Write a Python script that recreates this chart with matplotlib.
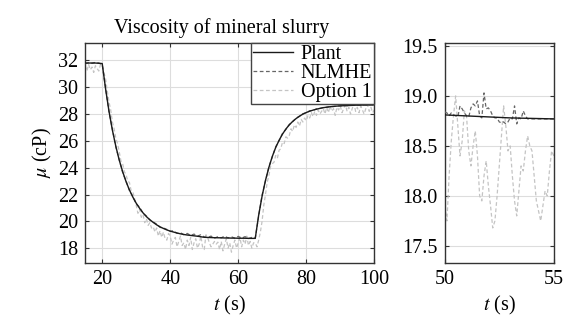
import matplotlib
matplotlib.use("Agg")
import matplotlib.pyplot as plt
import numpy as np

plt.rcParams["font.family"] = ["Liberation Serif", "DejaVu Serif"]
plt.rcParams["mathtext.fontset"] = "stix"

# ---- data ----
t_main = np.arange(15, 101)
plant = [31.80, 31.80, 31.80, 31.80, 31.78,
         31.76, 29.86, 28.20, 26.79, 25.60, 24.57, 23.71, 22.97, 22.34, 21.81,
         21.35, 20.97, 20.63, 20.35, 20.12, 19.92, 19.74, 19.59, 19.47, 19.36,
         19.27, 19.20, 19.13, 19.07, 19.02, 18.98, 18.95, 18.92, 18.89, 18.85,
         18.81, 18.80, 18.79, 18.78, 18.775, 18.77, 18.76, 18.76, 18.75, 18.75,
         18.74, 18.74, 18.74, 18.73, 18.73, 18.73, 20.46, 21.87, 23.05, 24.02,
         24.83, 25.50, 26.04, 26.50, 26.88, 27.19, 27.45, 27.66, 27.84, 27.99,
         28.11, 28.21, 28.29, 28.36, 28.42, 28.47, 28.51, 28.54, 28.57, 28.59,
         28.61, 28.62, 28.63, 28.64, 28.65, 28.66, 28.66, 28.67, 28.67, 28.68, 28.68]
nlmhe = [31.75, 31.82, 31.78, 31.85, 31.80,
         31.70, 29.90, 28.15, 26.85, 25.55, 24.60, 23.65, 23.00, 22.30, 21.85,
         21.30, 21.05, 20.60, 20.40, 20.10, 19.95, 19.80, 19.55, 19.50, 19.40,
         19.25, 19.30, 19.10, 19.15, 19.00, 19.10, 18.95, 19.05, 18.90, 19.00,
         18.84, 18.80, 18.90, 18.75, 18.85, 18.77, 18.90, 18.76, 18.85, 18.74,
         18.88, 18.75, 18.86, 18.72, 18.80, 18.75, 20.40, 21.95, 23.00, 24.05,
         24.80, 25.55, 26.00, 26.55, 26.85, 27.22, 27.42, 27.70, 27.82, 28.02,
         28.10, 28.24, 28.27, 28.38, 28.41, 28.49, 28.50, 28.56, 28.55, 28.60,
         28.60, 28.63, 28.62, 28.65, 28.64, 28.67, 28.65, 28.68, 28.66, 28.69, 28.67]

t_opt = np.arange(15, 100.01, 0.5)
option1 = [31.6, 31.2, 31.7, 31.3, 31.5, 31.1, 31.6, 31.4, 31.2, 31.7,
           31.6, 31.1, 30.6, 29.7, 28.9, 28.3, 27.4, 26.9, 26.2, 25.8,
           25.2, 24.5, 24.3, 23.7, 23.5, 23.0, 22.9, 22.3, 22.2, 21.7,
           21.2, 20.6, 20.9, 20.3, 20.5, 19.9, 20.2, 19.7, 19.9, 19.5,
           19.6, 19.2, 19.5, 18.9, 19.3, 18.8, 19.2, 18.7, 18.6, 19.1,
           18.9, 18.3, 18.6, 18.8, 18.1, 18.5, 18.9, 18.2, 18.4, 17.9,
           18.6, 18.2, 18.8, 17.9, 18.4, 18.7, 18.0, 18.3, 18.9, 18.1,
           17.9, 19.0, 18.8, 18.4, 18.1, 18.3, 18.5, 18.3, 18.45, 17.9,
           18.5, 17.8, 18.3, 18.7, 18.0, 18.4, 17.7, 18.2, 18.6, 18.0,
           18.4, 18.8, 18.1, 18.6, 18.3, 18.9, 18.2, 18.5, 18.0, 18.4,
           18.4, 18.1, 18.6, 19.2, 20.0, 21.2, 22.0, 22.9, 23.4, 24.1,
           24.3, 24.4, 24.9, 24.7, 25.3, 25.4, 25.9, 25.8, 26.3, 26.2,
           26.4, 26.9, 26.7, 27.2, 27.0, 27.4, 27.1, 27.6, 27.4, 27.7,
           27.5, 27.9, 27.7, 28.1, 27.8, 28.2, 27.9, 28.3, 28.0, 28.2,
           28.4, 28.0, 28.5, 28.1, 28.6, 28.2, 28.4, 27.9, 28.5, 28.3,
           28.6, 28.1, 28.4, 28.7, 28.2, 28.5, 28.0, 28.4, 28.8, 28.2,
           28.5, 28.1, 28.6, 28.3, 28.0, 28.4, 28.7, 28.2, 28.5, 28.1, 28.3]

# zoomed window 50-55 s
t_zoom = np.linspace(50, 55, 51)
option1_zoom = [17.90, 17.75, 18.20, 18.55, 18.80, 19.00, 18.70, 18.40, 18.55, 18.85,
                18.80, 18.45, 18.30, 18.50, 18.65, 18.40, 18.00, 17.95, 18.20, 18.35,
                18.10, 17.90, 17.68, 17.75, 18.00, 18.30, 18.60, 18.90, 18.70, 18.45,
                18.50, 18.20, 17.95, 17.80, 18.05, 18.30, 18.25, 18.45, 18.60, 18.50,
                18.45, 18.20, 17.95, 17.85, 17.75, 17.90, 18.05, 18.00, 18.25, 18.45, 18.40]
nlmhe_zoom = [18.84, 18.83, 18.80, 18.83, 18.81, 18.80, 18.79, 18.90, 18.87, 18.83,
              18.80, 18.79, 18.88, 18.92, 18.90, 18.95, 18.80, 18.78, 19.03, 18.87,
              18.88, 18.85, 18.80, 18.78, 18.78, 18.74, 18.73, 18.74, 18.72, 18.74,
              18.78, 18.77, 18.90, 18.72, 18.78, 18.77, 18.85, 18.80, 18.77, 18.77,
              18.77, 18.77, 18.77, 18.77, 18.77, 18.77, 18.77, 18.77, 18.77, 18.77, 18.77]

c_plant, c_nlmhe, c_opt = "#1a1a1a", "#666666", "#c4c4c4"
fs = 14.5

fig = plt.figure(figsize=(5.68, 3.25), dpi=100)
ax1 = fig.add_axes([0.150, 0.191, 0.509, 0.677])
ax2 = fig.add_axes([0.783, 0.191, 0.192, 0.677])

for ax in (ax1, ax2):
    ax.plot(t_opt if ax is ax1 else t_zoom, option1 if ax is ax1 else option1_zoom,
            ls=(0, (3, 2)), lw=0.9, color=c_opt, label="Option 1", zorder=2)
    ax.plot(t_main if ax is ax1 else t_zoom, nlmhe if ax is ax1 else nlmhe_zoom,
            ls=(0, (3, 2)), lw=0.9, color=c_nlmhe, label="NLMHE", zorder=3)
    ax.plot(t_main, plant, lw=1.0, color=c_plant, label="Plant", zorder=4)
    ax.grid(True, color="#dddddd", lw=0.8)
    ax.set_axisbelow(True)
    ax.tick_params(direction="in", top=True, right=True, labelsize=fs, length=3,
                   color="#333", pad=5)
    for s in ax.spines.values():
        s.set_color("#333")
        s.set_linewidth(1.0)
    ax.set_xlabel(r"$t$ (s)", fontsize=fs, labelpad=4)

ax1.set_xlim(15, 100)
ax1.set_ylim(16.9, 33.3)
ax1.set_xticks([20, 40, 60, 80, 100])
ax1.set_yticks(np.arange(18, 33, 2))
ax1.set_ylabel(r"$\mu$ (cP)", fontsize=fs, labelpad=3)
ax1.set_title("Viscosity of mineral slurry", fontsize=fs, pad=7, x=0.472)
h, l = ax1.get_legend_handles_labels()
leg = ax1.legend(h[::-1], l[::-1], loc="upper right", fontsize=fs, handlelength=2.0,
                 borderaxespad=0.0, borderpad=0.1, labelspacing=0.0, handletextpad=0.4,
                 fancybox=False, framealpha=1)
leg.get_frame().set_edgecolor("#444")
leg.get_frame().set_linewidth(1.0)

ax2.set_xlim(50, 55)
ax2.set_ylim(17.33, 19.53)
ax2.set_xticks([50, 55])
ax2.set_yticks([17.5, 18.0, 18.5, 19.0, 19.5])
ax2.set_yticklabels(["17.5", "18.0", "18.5", "19.0", "19.5"])

fig.savefig("out.png", dpi=100)
